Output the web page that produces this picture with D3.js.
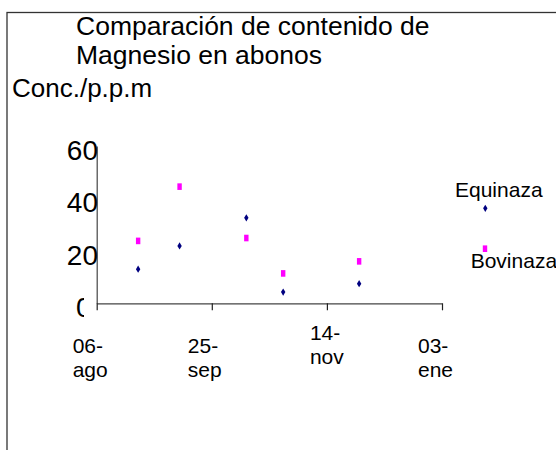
<!DOCTYPE html>
<html>
<head>
<meta charset="utf-8">
<script src="https://cdn.jsdelivr.net/npm/d3@7"></script>
<style>
  html, body { margin: 0; padding: 0; background: #fff; }
  svg { display: block; font-family: Arial, "Liberation Sans", sans-serif; }
</style>
</head>
<body>
<svg id="chart" width="556" height="450"></svg>
<script>
// ---- data ----
const sampleDates = ["2008-08-24", "2008-09-11", "2008-10-10", "2008-10-26", "2008-11-28"];
const equinaza = [13.0, 21.9, 32.6, 4.3, 7.5];
const bovinaza = [23.8, 44.5, 24.9, 11.4, 16.0];
const xTickDates = ["2008-08-06", "2008-09-25", "2008-11-14", "2009-01-03"];
const xTickLabels = [["06-", "ago"], ["25-", "sep"], ["14-", "nov"], ["03-", "ene"]];
const yTicks = [0, 20, 40, 60];
const titleLines = ["Comparación de contenido de", "Magnesio en abonos"];
const yTitle = "Conc./p.p.m";
const seriesNames = ["Equinaza", "Bovinaza"];

const parse = d3.utcParse("%Y-%m-%d");
const svg = d3.select("#chart");

// outer frame (right and bottom edges fall outside the view)
svg.append("rect")
  .attr("x", 7).attr("y", 12.5).attr("width", 700).attr("height", 600)
  .attr("fill", "none").attr("stroke", "#333").attr("stroke-width", 1.3);

const x = d3.scaleUtc()
  .domain([parse(xTickDates[0]), parse(xTickDates[xTickDates.length - 1])])
  .range([96.7, 442]);
const y = d3.scaleLinear().domain([0, 60]).range([303.3, 146]);

// title
svg.append("text")
  .attr("font-size", 26.5).attr("fill", "#000")
  .selectAll("tspan").data(titleLines).join("tspan")
  .attr("x", 76).attr("y", (d, i) => 35 + i * 29)
  .text(d => d);

svg.append("text")
  .attr("x", 12).attr("y", 97).attr("font-size", 26).attr("fill", "#000")
  .text(yTitle);

// y axis
const yAxis = d3.axisLeft(y).tickValues(yTicks).tickSize(0).tickSizeOuter(0).tickFormat("");
const gy = svg.append("g").attr("transform", "translate(96.7,0)").call(yAxis);
gy.select(".domain").attr("stroke", "#444").attr("stroke-width", 1.2);

svg.append("clipPath").attr("id", "zeroClip")
  .append("rect").attr("x", 0).attr("y", 0).attr("width", 84).attr("height", 450);

svg.append("g").selectAll("text").data(yTicks).join("text")
  .attr("font-size", 28).attr("fill", "#000")
  .attr("x", d => d === 0 ? 76 : 98)
  .attr("text-anchor", d => d === 0 ? "start" : "end")
  .attr("clip-path", d => d === 0 ? "url(#zeroClip)" : null)
  .attr("y", d => y(d) + 14)
  .text(d => d);

// x axis
const xAxis = d3.axisBottom(x)
  .tickValues(xTickDates.map(parse)).tickSize(7).tickSizeOuter(0).tickFormat("");
const gx = svg.append("g").attr("transform", `translate(0,${y(0)})`).call(xAxis);
gx.select(".domain").attr("stroke", "#444").attr("stroke-width", 1.2);
gx.selectAll(".tick line").attr("stroke", "#222").attr("stroke-width", 1.2);

svg.append("g").selectAll("text").data(xTickDates).join("text")
  .attr("font-size", 21).attr("fill", "#000")
  .each(function (d, i) {
    const raised = i === 2;
    const x0 = x(parse(d)) - (raised ? 17 : 24);
    const b0 = raised ? 340 : 352.7;
    d3.select(this).selectAll("tspan").data(xTickLabels[i]).join("tspan")
      .attr("x", x0).attr("y", (t, j) => b0 + j * 24)
      .text(t => t);
  });

// markers
const diamond = "M0,-3.6L2.2,0L0,3.6L-2.2,0Z";
const pts = sampleDates.map((d, i) => ({ date: parse(d), eq: equinaza[i], bo: bovinaza[i] }));

svg.append("g").selectAll("rect").data(pts).join("rect")
  .attr("x", d => x(d.date) - 2.2).attr("y", d => y(d.bo) - 3.3)
  .attr("width", 4.4).attr("height", 6.6).attr("fill", "#ff00ff");

svg.append("g").selectAll("path").data(pts).join("path")
  .attr("d", diamond)
  .attr("transform", d => `translate(${x(d.date)},${y(d.eq)})`)
  .attr("fill", "#000080");

// legend
const leg = svg.append("g");
leg.append("text").attr("x", 455).attr("y", 197).attr("font-size", 21).text(seriesNames[0]);
leg.append("path").attr("d", diamond).attr("transform", "translate(485.3,208.3)").attr("fill", "#000080");
leg.append("rect").attr("x", 485 - 2.2).attr("y", 248.7 - 3.3).attr("width", 4.4).attr("height", 6.6).attr("fill", "#ff00ff");
leg.append("text").attr("x", 470.7).attr("y", 267.7).attr("font-size", 21).text(seriesNames[1]);
</script>
</body>
</html>
